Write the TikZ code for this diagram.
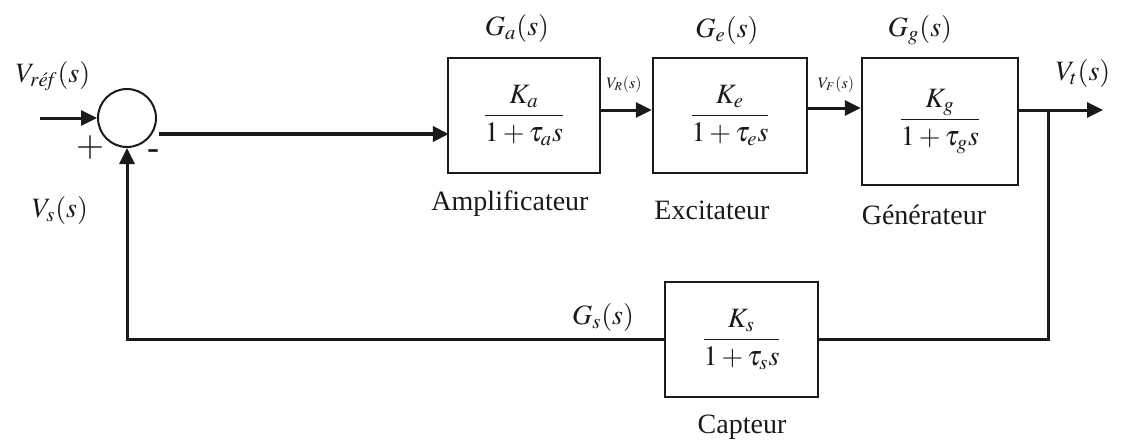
\documentclass[tikz,border=0pt]{standalone}
\usepackage{amsmath}
\usepackage{mathptmx}
\usepackage[no-math]{fontspec}
\setmainfont{Liberation Serif}
\usetikzlibrary{arrows.meta}
\definecolor{ink}{HTML}{1A1A1A}
\tikzset{
  block/.style={draw=ink, line width=1.2pt, inner sep=0pt, text=ink, font=\fontsize{14}{16}\selectfont},
  sumnode/.style={draw=ink, circle, line width=1pt, inner sep=0pt, minimum size=29pt},
  sig/.style={draw=ink, line width=1.5pt},
  arr/.style={sig, -{Triangle[length=8pt, width=7.5pt]}},
  thickarr/.style={draw=ink, line width=2pt, -{Triangle[length=8pt, width=7.5pt]}},
  lbl/.style={text=ink, inner sep=1pt, font=\fontsize{14}{16}\selectfont},
  tiny/.style={text=ink, inner sep=0pt, font=\fontsize{8}{9}\selectfont},
}

\begin{document}
\begin{tikzpicture}[x=0.5pt, y=-0.5pt]
  \useasboundingbox (0,0) rectangle (1124,441);

  % summing point and blocks
  \node[sumnode] (sum) at (127,118) {};
  \node[block, minimum width=76pt, minimum height=57.5pt] (amp) at (524,115.5)
      {$\dfrac{K_a}{1+\tau_a s}$};
  \node[block, minimum width=77pt, minimum height=57.5pt] (exc) at (730,115.5)
      {$\dfrac{K_e}{1+\tau_e s}$};
  \node[block, minimum width=78pt, minimum height=63.5pt] (gen) at (940,121.5)
      {$\dfrac{K_g}{1+\tau_g s}$};
  \node[block, minimum width=76.5pt, minimum height=57.5pt] (capt) at (741.5,339.5)
      {$\dfrac{K_s}{1+\tau_s s}$};

  \coordinate (in) at (40,118);
  \coordinate (branch) at (1048,110);
  \coordinate (out) at (1103,110);

  % forward path
  \draw[arr] (in) -- (sum.west);
  \draw[thickarr] ([shift={(1pt,-8pt)}]sum.east) -- ([shift={(1pt,-8pt)}]sum.east -| amp.west);
  \draw[arr] ([yshift=2.75pt]amp.east) -- ([yshift=2.75pt]exc.west);
  \draw[arr] ([yshift=3.75pt]exc.east) -- ([yshift=3.75pt]exc.east -| gen.west);
  \draw[arr] ([yshift=5.75pt]gen.east) -- (out);

  % feedback path
  \draw[sig] (branch) |- (capt.east);
  \draw[arr] (capt.west) -| (sum.south);

  % signals and transfer functions
  \node[lbl] at (53,76) {$V_{\mathit{r\acute{e}f}}(s)$};
  \node[lbl, font=\fontsize{18}{20}\selectfont] at (90,147) {$+$};
  \node[lbl, font=\fontsize{18}{20}\selectfont] at (153,155) {-};
  \node[lbl] at (60,210) {$V_s(s)$};
  \node[lbl] at (517,28) {$G_a(s)$};
  \node[lbl] at (727,30) {$G_e(s)$};
  \node[lbl] at (920,30) {$G_g(s)$};
  \node[lbl] at (1083,73) {$V_t(s)$};
  \node[lbl] at (603,317) {$G_s(s)$};
  \node[tiny] at (624,84) {$V_R(s)$};
  \node[tiny] at (836,84) {$V_F(s)$};

  \node[lbl] at (510,204) {Amplificateur};
  \node[lbl] at (712,210) {Excitateur};
  \node[lbl] at (924,215) {Générateur};
  \node[lbl] at (742,427) {Capteur};

\end{tikzpicture}
\end{document}
